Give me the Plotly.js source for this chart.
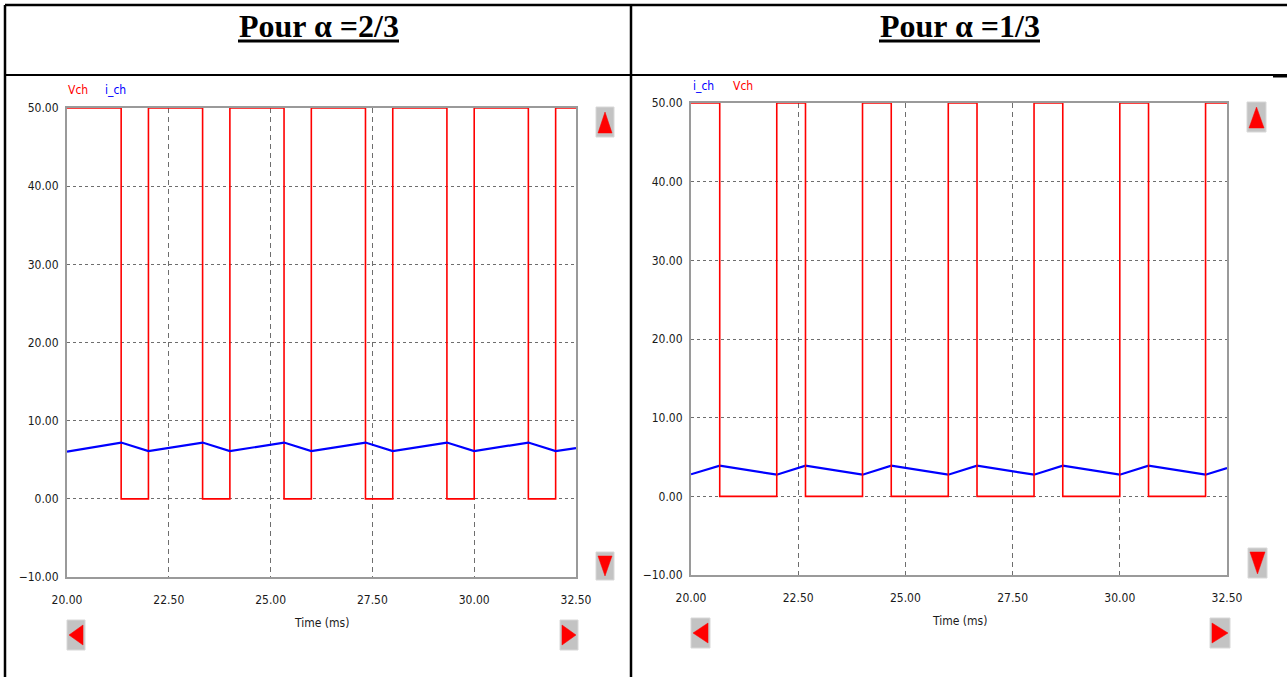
<!DOCTYPE html>
<html>
<head>
<meta charset="utf-8">
<script src="https://cdn.plot.ly/plotly-3.0.1.min.js"></script>
<style>
html,body{margin:0;padding:0;background:#fff;}
#chart{width:1287px;height:677px;}
</style>
</head>
<body>
<div id="chart"></div>
<script>
// ---------- data ----------
// Left panel: alpha = 2/3
const tVchLeft = [20.00, 21.33, 22.00, 23.33, 24.00, 25.33, 26.00, 27.33, 28.00, 29.33, 30.00, 31.33, 32.00, 32.50];
const vchLeft  = [50, 0, 50, 0, 50, 0, 50, 0, 50, 0, 50, 0, 50, 50];
const tIchLeft = [20.00, 21.33, 22.00, 23.33, 24.00, 25.33, 26.00, 27.33, 28.00, 29.33, 30.00, 31.33, 32.00, 32.50];
const ichLeft  = [6.05, 7.20, 6.10, 7.20, 6.10, 7.20, 6.10, 7.20, 6.10, 7.20, 6.10, 7.20, 6.10, 6.50];

// Right panel: alpha = 1/3
const tVchRight = [20.00, 20.67, 22.00, 22.67, 24.00, 24.67, 26.00, 26.67, 28.00, 28.67, 30.00, 30.67, 32.00, 32.50];
const vchRight  = [50, 0, 50, 0, 50, 0, 50, 0, 50, 0, 50, 0, 50, 50];
const tIchRight = [20.00, 20.67, 22.00, 22.67, 24.00, 24.67, 26.00, 26.67, 28.00, 28.67, 30.00, 30.67, 32.00, 32.50];
const ichRight  = [2.80, 3.90, 2.75, 3.90, 2.75, 3.90, 2.75, 3.90, 2.75, 3.90, 2.75, 3.90, 2.75, 3.60];

const panelTitles = ['Pour α =2/3', 'Pour α =1/3'];
const xTitle = 'Time (ms)';
const xRange = [20, 32.5];
const yRange = [-10, 50];

// ---------- layout helpers ----------
const W = 1287, H = 677;
const fx = x => x / W;
const fy = y => 1 - y / H;

const RED = '#ff0000', BLUE = '#0000ff';
const SANS = '"Liberation Sans Narrow", "Arial Narrow", "DejaVu Sans Condensed", "Liberation Sans", Arial, sans-serif';

const traces = [
  {x: tVchLeft, y: vchLeft, xaxis: 'x', yaxis: 'y', mode: 'lines', line: {color: RED, width: 1.6, shape: 'hv'}, name: 'Vch'},
  {x: tIchLeft, y: ichLeft, xaxis: 'x', yaxis: 'y', mode: 'lines', line: {color: BLUE, width: 2.2}, name: 'i_ch'},
  {x: tIchRight, y: ichRight, xaxis: 'x2', yaxis: 'y2', mode: 'lines', line: {color: BLUE, width: 2.2}, name: 'i_ch'},
  {x: tVchRight, y: vchRight, xaxis: 'x2', yaxis: 'y2', mode: 'lines', line: {color: RED, width: 1.6, shape: 'hv'}, name: 'Vch'}
];

function xax(domain, anchor) {
  return {
    domain: domain, anchor: anchor, range: xRange, dtick: 2.5, tick0: 20, tickformat: '.2f',
    showgrid: true, gridcolor: '#6e6e6e', griddash: '5px,4px', gridwidth: 1,
    showline: true, linecolor: '#9a9a9a', linewidth: 2, mirror: true,
    zeroline: false, ticks: '', ticklabelstandoff: 11,
    tickfont: {family: SANS, size: 12, color: '#1a1a1a'}, fixedrange: true
  };
}
function yax(domain, anchor) {
  return {
    domain: domain, anchor: anchor, range: yRange, dtick: 10, tick0: 0, tickformat: '.2f',
    showgrid: true, gridcolor: '#6e6e6e', griddash: '3px,3px', gridwidth: 1,
    showline: true, linecolor: '#9a9a9a', linewidth: 2, mirror: true,
    zeroline: false, ticks: '', ticklabelstandoff: 4,
    tickfont: {family: SANS, size: 12, color: '#1a1a1a'}, fixedrange: true
  };
}

const shapes = [];
function pline(x0, y0, x1, y1, w, c) {
  shapes.push({type: 'line', xref: 'paper', yref: 'paper', x0: fx(x0), y0: fy(y0), x1: fx(x1), y1: fy(y1),
    line: {color: c || '#000', width: w}});
}
// table borders
pline(5, 5, 1287, 5, 2.5);
pline(5, 5, 5, 677, 2.5);
pline(631, 5, 631, 677, 2.5);
pline(5, 75, 1287, 75, 2);
pline(1273, 76, 1287, 76, 3);
// title underlines
pline(238, 41, 399, 41, 3);
pline(879, 41, 1040, 41, 3);

// scroll buttons
function button(x0, y0, x1, y1, dir) {
  shapes.push({type: 'rect', xref: 'paper', yref: 'paper', x0: fx(x0), y0: fy(y0), x1: fx(x1), y1: fy(y1),
    fillcolor: '#c3c3c3', line: {color: '#d8d8d8', width: 1}, layer: 'above'});
  const p = 2;
  let pts;
  const cx = (x0 + x1) / 2, cy = (y0 + y1) / 2;
  if (dir === 'up') pts = [[cx, y0 + 5], [x1 - p, y1 - 4], [x0 + p, y1 - 4]];
  else if (dir === 'down') pts = [[cx, y1 - 4], [x1 - p, y0 + 4], [x0 + p, y0 + 4]];
  else if (dir === 'left') pts = [[x0 + 2, cy], [x1 - 2, y0 + 5], [x1 - 2, y1 - 5]];
  else pts = [[x1 - 2, cy], [x0 + 2, y0 + 5], [x0 + 2, y1 - 5]];
  const path = 'M' + pts.map(q => fx(q[0]) + ',' + fy(q[1])).join(' L') + ' Z';
  shapes.push({type: 'path', xref: 'paper', yref: 'paper', path: path, fillcolor: RED, line: {color: RED, width: 0.5}, layer: 'above'});
}
button(596, 107, 614, 137, 'up');
button(596, 552, 614, 580, 'down');
button(67, 620, 85, 650, 'left');
button(560, 620, 578, 650, 'right');
button(1247, 102, 1266, 132, 'up');
button(1248, 548, 1267, 578, 'down');
button(691, 618, 710, 648, 'left');
button(1210, 618, 1230, 648, 'right');

function ann(text, x, y, size, color, family, xanchor) {
  return {text: text, xref: 'paper', yref: 'paper', x: fx(x), y: fy(y), xanchor: xanchor || 'center', yanchor: 'middle',
    showarrow: false, font: {family: family || SANS, size: size, color: color || '#000'}};
}
const SERIF = '"Liberation Serif", "Times New Roman", serif';
const annotations = [
  ann('<b>' + panelTitles[0] + '</b>', 318.5, 26, 32, '#000', SERIF),
  ann('<b>' + panelTitles[1] + '</b>', 959.5, 26, 32, '#000', SERIF),
  ann('Vch', 66, 90, 12, RED, SANS, 'left'),
  ann('i_ch', 103, 90, 12, BLUE, SANS, 'left'),
  ann('i_ch', 691, 86, 12, BLUE, SANS, 'left'),
  ann('Vch', 731, 86, 12, RED, SANS, 'left'),
  ann(xTitle, 321.5, 623, 12, '#1a1a1a'),
  ann(xTitle, 959, 621, 12, '#1a1a1a')
];

const layout = {
  width: W, height: H, margin: {l: 0, r: 0, t: 0, b: 0},
  paper_bgcolor: '#fff', plot_bgcolor: '#fff', showlegend: false,
  xaxis: xax([fx(67), fx(576)], 'y'),
  yaxis: yax([fy(577), fy(108)], 'x'),
  xaxis2: xax([fx(691), fx(1227)], 'y2'),
  yaxis2: yax([fy(575), fy(103)], 'x2'),
  shapes: shapes, annotations: annotations
};

Plotly.newPlot('chart', traces, layout, {staticPlot: true, displayModeBar: false});
</script>
</body>
</html>
